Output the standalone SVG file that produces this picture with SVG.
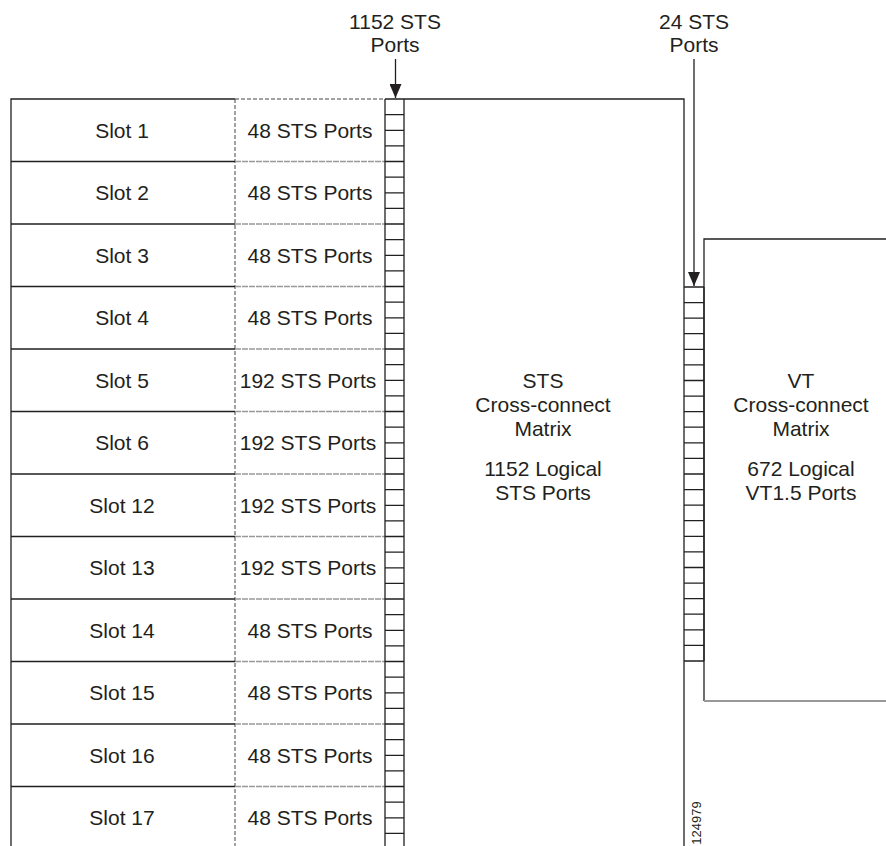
<svg xmlns="http://www.w3.org/2000/svg" width="886" height="846" viewBox="0 0 886 846">
<defs>
<style>
.t{font-family:"Liberation Sans",Arial,sans-serif;font-size:21px;fill:#231f20;text-anchor:middle}
.s{font-family:"Liberation Sans",Arial,sans-serif;font-size:13px;fill:#231f20;text-anchor:middle}
.ln{stroke:#231f20;stroke-width:1.3;fill:none}
.dv{stroke:#444;stroke-width:1;stroke-dasharray:4 2;fill:none}
.dh{stroke:#999;stroke-width:1.3;stroke-dasharray:6 1;fill:none}
.ar{stroke:#231f20;stroke-width:1.3;fill:none;marker-end:url(#ah)}
</style>
<marker id="ah" markerUnits="userSpaceOnUse" markerWidth="14" markerHeight="12" refX="14" refY="6" orient="auto">
<path d="M0,0 L14,6 L0,12 z" fill="#231f20"/>
</marker>
</defs>
<rect width="886" height="846" fill="#fff"/>

<g id="slot-table">
<path class="ln" d="M11,846 V99 H235"/>
<path class="dv" d="M235,99 V846"/>
<path class="dv" d="M235,99 H385"/>
<path class="ln" d="M11,161.5 H235 M11,224 H235 M11,286.5 H235 M11,349 H235 M11,411.5 H235 M11,474 H235 M11,536.5 H235 M11,599 H235 M11,661.5 H235 M11,724 H235 M11,786.5 H235"/>
<path class="dh" d="M235,161.5 H385 M235,224 H385 M235,286.5 H385 M235,349 H385 M235,411.5 H385 M235,474 H385 M235,536.5 H385 M235,599 H385 M235,661.5 H385 M235,724 H385 M235,786.5 H385"/>
</g>
<g id="row-slot1"><text class="t" x="122" y="137.8">Slot 1</text><text class="t" x="310" y="137.8">48 STS Ports</text></g>
<g id="row-slot2"><text class="t" x="122" y="200.3">Slot 2</text><text class="t" x="310" y="200.3">48 STS Ports</text></g>
<g id="row-slot3"><text class="t" x="122" y="262.8">Slot 3</text><text class="t" x="310" y="262.8">48 STS Ports</text></g>
<g id="row-slot4"><text class="t" x="122" y="325.3">Slot 4</text><text class="t" x="310" y="325.3">48 STS Ports</text></g>
<g id="row-slot5"><text class="t" x="308" y="387.8">192 STS Ports</text><text class="t" x="122" y="387.8">Slot 5</text></g>
<g id="row-slot6"><text class="t" x="122" y="450.3">Slot 6</text><text class="t" x="308" y="450.3">192 STS Ports</text></g>
<g id="row-slot12"><text class="t" x="122" y="512.8">Slot 12</text><text class="t" x="308" y="512.8">192 STS Ports</text></g>
<g id="row-slot13"><text class="t" x="122" y="575.3">Slot 13</text><text class="t" x="308" y="575.3">192 STS Ports</text></g>
<g id="row-slot14"><text class="t" x="122" y="637.8">Slot 14</text><text class="t" x="310" y="637.8">48 STS Ports</text></g>
<g id="row-slot15"><text class="t" x="122" y="700.3">Slot 15</text><text class="t" x="310" y="700.3">48 STS Ports</text></g>
<g id="row-slot16"><text class="t" x="122" y="762.8">Slot 16</text><text class="t" x="310" y="762.8">48 STS Ports</text></g>
<g id="row-slot17"><text class="t" x="122" y="825.3">Slot 17</text><text class="t" x="310" y="825.3">48 STS Ports</text></g>

<g id="sts-ports-ladder">
<path class="ln" d="M385,99 V846 M404,99 V846"/>
<path class="ln" d="M385,99H404M385,114.6H404M385,130.3H404M385,145.9H404M385,161.5H404M385,177.1H404M385,192.8H404M385,208.4H404M385,224H404M385,239.6H404M385,255.3H404M385,270.9H404M385,286.5H404M385,302.1H404M385,317.8H404M385,333.4H404M385,349H404M385,364.6H404M385,380.3H404M385,395.9H404M385,411.5H404M385,427.1H404M385,442.8H404M385,458.4H404M385,474H404M385,489.6H404M385,505.3H404M385,520.9H404M385,536.5H404M385,552.1H404M385,567.8H404M385,583.4H404M385,599H404M385,614.6H404M385,630.3H404M385,645.9H404M385,661.5H404M385,677.1H404M385,692.8H404M385,708.4H404M385,724H404M385,739.6H404M385,755.3H404M385,770.9H404M385,786.5H404M385,802.1H404M385,817.8H404M385,833.4H404"/>
</g>

<g id="sts-matrix">
<path class="ln" d="M404,99 H684 V846"/>
<text class="t" x="543" y="388">STS</text>
<text class="t" x="543" y="412">Cross-connect</text>
<text class="t" x="543" y="436">Matrix</text>
<text class="t" x="543" y="476">1152 Logical</text>
<text class="t" x="543" y="500">STS Ports</text>
</g>

<g id="vt-ports-ladder">
<path class="ln" d="M704,287 V661"/>
<path class="ln" d="M684,287H704M684,302.6H704M684,318.2H704M684,333.7H704M684,349.3H704M684,364.9H704M684,380.5H704M684,396.1H704M684,411.7H704M684,427.2H704M684,442.8H704M684,458.4H704M684,474H704M684,489.6H704M684,505.2H704M684,520.7H704M684,536.3H704M684,551.9H704M684,567.5H704M684,583.1H704M684,598.7H704M684,614.2H704M684,629.8H704M684,645.4H704M684,661H704"/>
</g>

<g id="vt-matrix">
<path class="ln" d="M886,239 H704 V701"/>
<path d="M704,701 H886" stroke="#999" stroke-width="2" fill="none"/>
<text class="t" x="801" y="388">VT</text>
<text class="t" x="801" y="412">Cross-connect</text>
<text class="t" x="801" y="436">Matrix</text>
<text class="t" x="801" y="476">672 Logical</text>
<text class="t" x="801" y="500">VT1.5 Ports</text>
</g>

<g id="label-1152"><text class="t" x="395" y="29">1152 STS</text><text class="t" x="395" y="52">Ports</text></g>
<g id="label-24"><text class="t" x="694" y="29">24 STS</text><text class="t" x="694" y="52">Ports</text></g>

<g id="connectors">
<path class="ar" d="M395.5,59 V98"/>
<path class="ar" d="M694,59 V286"/>
</g>

<g id="figure-id"><text class="s" transform="translate(701,823) rotate(-90)">124979</text></g>
</svg>
